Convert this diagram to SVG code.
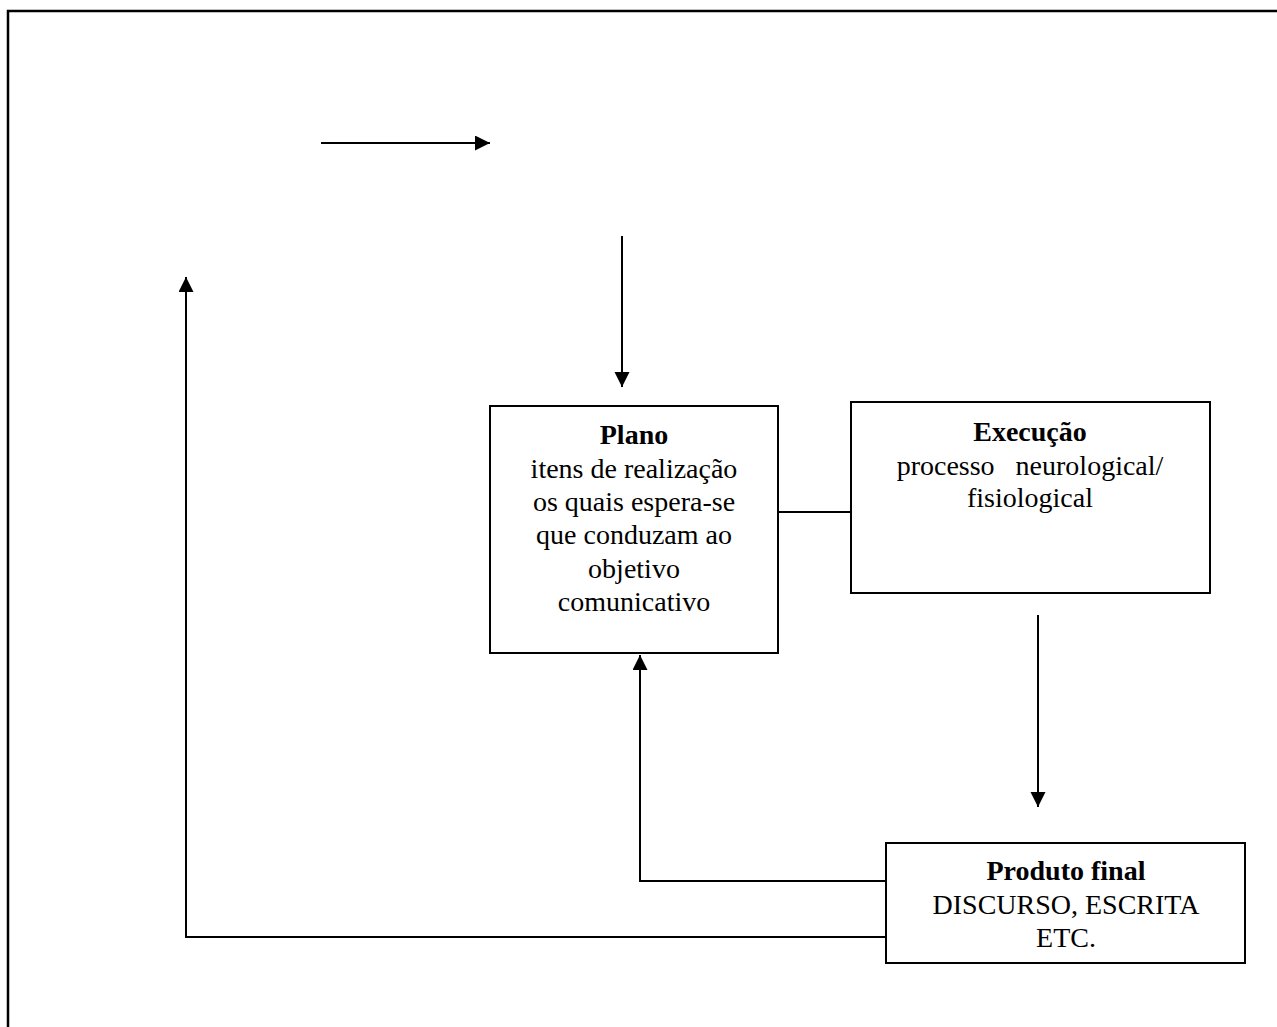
<svg xmlns="http://www.w3.org/2000/svg" width="1277" height="1027" viewBox="0 0 1277 1027">
<style>
.box{fill:#fff;stroke:#000;stroke-width:2}
.ln{fill:none;stroke:#000;stroke-width:2}
text{font-family:"Liberation Serif","Times New Roman",serif;font-size:28px;fill:#000;text-anchor:middle}
.b{font-weight:bold}
</style>
<defs>
<marker id="ah" markerUnits="userSpaceOnUse" markerWidth="16" markerHeight="16" refX="15" refY="7.5" orient="auto">
<path d="M0,0 L15,7.5 L0,15 Z" fill="#000"/>
</marker>
</defs>
<rect x="8" y="11" width="1320" height="1100" fill="#fff" stroke="#000" stroke-width="2.5"/>
<g id="connectors">
<line class="ln" x1="321" y1="143" x2="490" y2="143" marker-end="url(#ah)"/>
<line class="ln" x1="622" y1="236" x2="622" y2="387" marker-end="url(#ah)"/>
<line class="ln" x1="778" y1="512" x2="851" y2="512"/>
<line class="ln" x1="1038" y1="615" x2="1038" y2="807" marker-end="url(#ah)"/>
<polyline class="ln" points="886,881 640,881 640,655" marker-end="url(#ah)"/>
<polyline class="ln" points="886,937 186,937 186,277" marker-end="url(#ah)"/>
</g>
<g id="plano">
<rect class="box" x="490" y="406" width="288" height="247"/>
<text x="634" y="444" class="b">Plano</text>
<text x="634" y="478">itens de realização</text>
<text x="634" y="511">os quais espera-se</text>
<text x="634" y="544">que conduzam ao</text>
<text x="634" y="578">objetivo</text>
<text x="634" y="611">comunicativo</text>
</g>
<g id="execucao">
<rect class="box" x="851" y="402" width="359" height="191"/>
<text x="1030" y="441" class="b">Execução</text>
<text x="1030" y="475" xml:space="preserve">processo   neurological/</text>
<text x="1030" y="507">fisiological</text>
</g>
<g id="produto">
<rect class="box" x="886" y="843" width="359" height="120"/>
<text x="1066" y="880" class="b">Produto final</text>
<text x="1066" y="914">DISCURSO, ESCRITA</text>
<text x="1066" y="947">ETC.</text>
</g>
</svg>
